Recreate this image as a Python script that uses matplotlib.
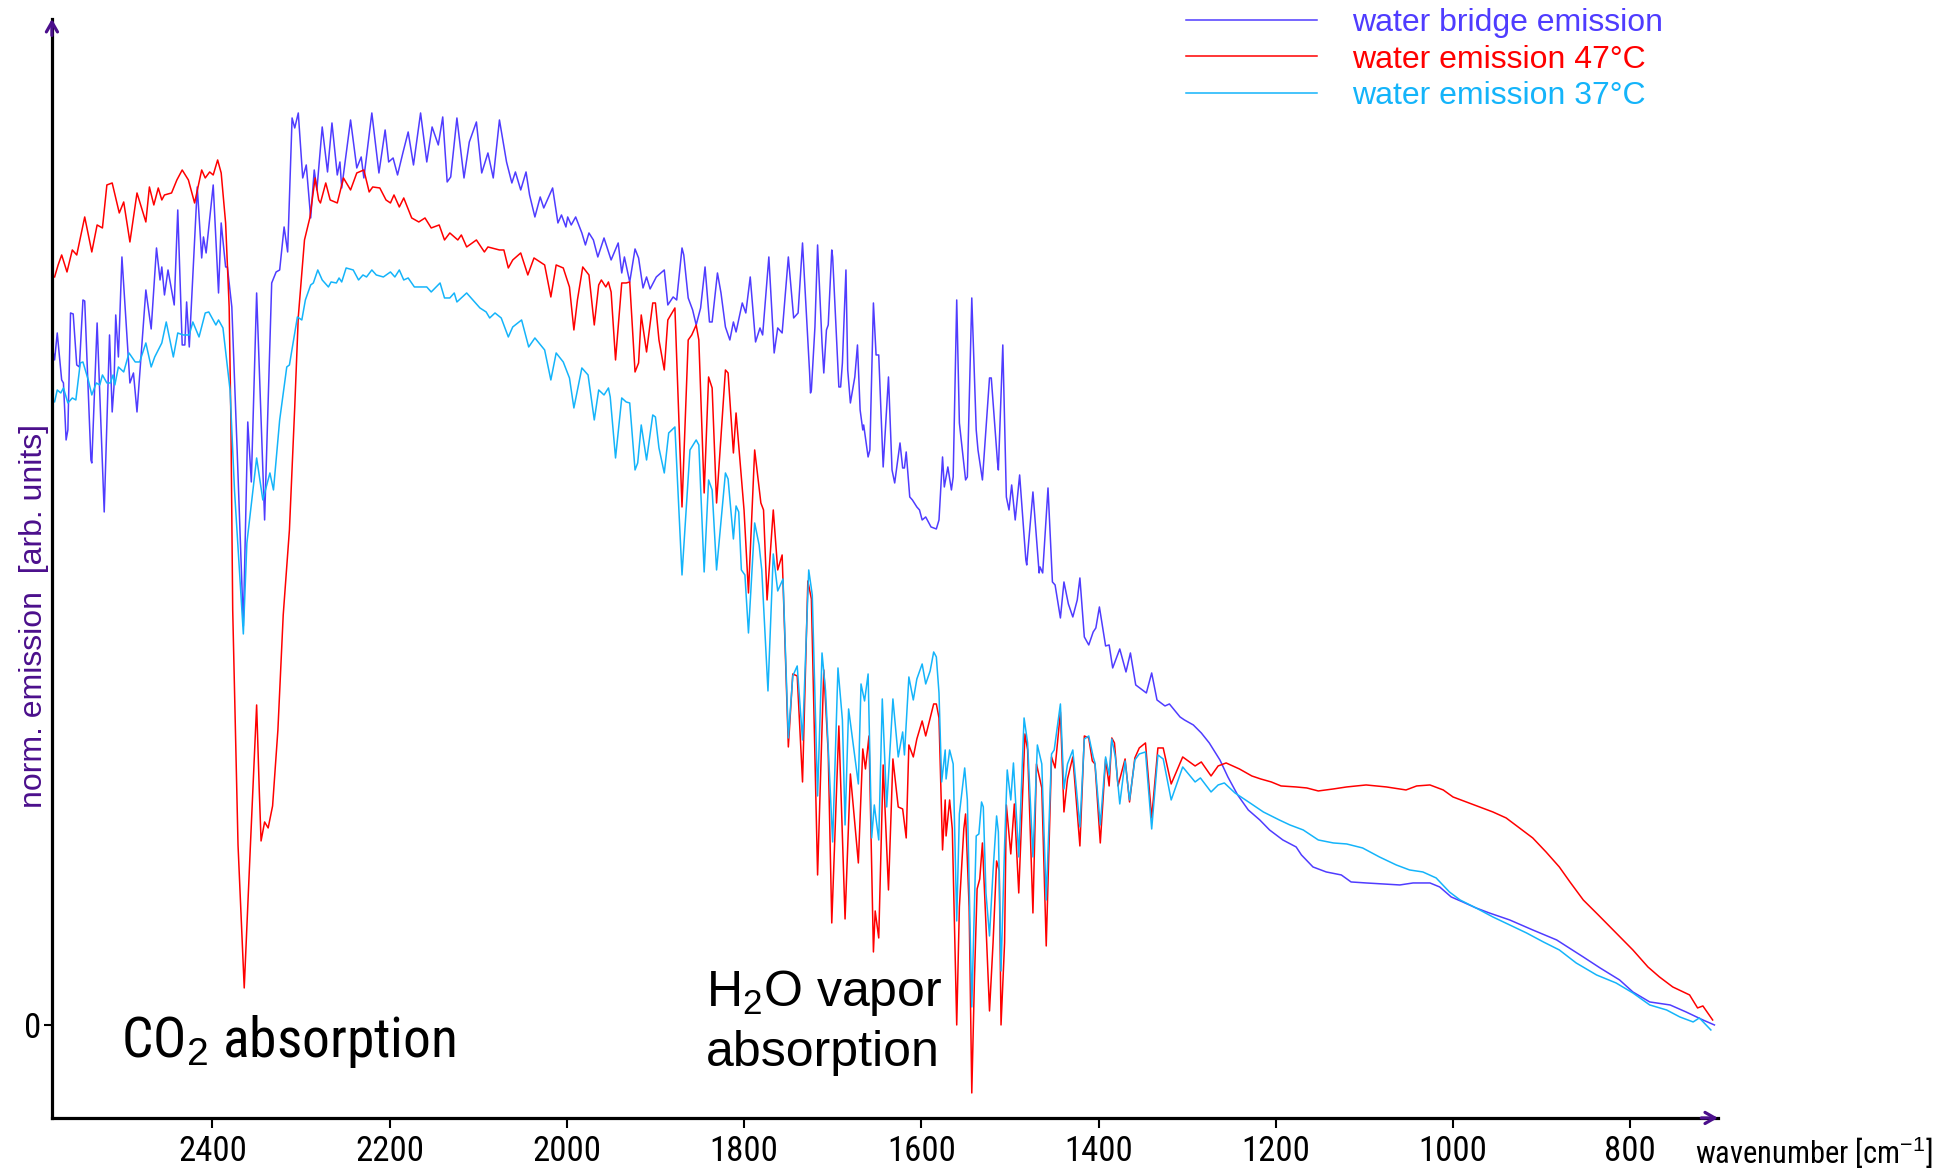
import matplotlib
matplotlib.use("Agg")
import matplotlib.pyplot as plt
from matplotlib import font_manager as fm

# wavenumber [cm-1] and normalised emission
BRIDGE_WN = [2580, 2578, 2575, 2570, 2568, 2565, 2563, 2560, 2557, 2553,
             2550, 2546, 2544, 2537, 2536, 2530, 2522, 2516, 2513, 2511,
             2509, 2506, 2502, 2493, 2489, 2485, 2475, 2469, 2463, 2459,
             2457, 2454, 2450, 2443, 2439, 2434, 2431, 2429, 2426, 2417,
             2412, 2410, 2407, 2399, 2393, 2390, 2385, 2383, 2378, 2372,
             2365, 2360, 2356, 2350, 2341, 2333, 2328, 2324, 2319, 2315,
             2310, 2307, 2303, 2298, 2294, 2289, 2285, 2282, 2276, 2270,
             2265, 2259, 2256, 2254, 2244, 2237, 2232, 2229, 2220, 2212,
             2205, 2201, 2196, 2191, 2185, 2179, 2173, 2165, 2158, 2152,
             2145, 2140, 2135, 2131, 2124, 2116, 2110, 2102, 2096, 2089,
             2083, 2076, 2068, 2062, 2058, 2052, 2046, 2042, 2036, 2030,
             2026, 2016, 2010, 2006, 2001, 1999, 1995, 1990, 1983, 1979,
             1975, 1970, 1965, 1958, 1950, 1942, 1938, 1935, 1929, 1923,
             1919, 1914, 1910, 1906, 1899, 1890, 1886, 1880, 1876, 1870,
             1868, 1863, 1858, 1854, 1849, 1844, 1839, 1836, 1830, 1826,
             1821, 1816, 1812, 1809, 1802, 1798, 1793, 1787, 1782, 1779,
             1772, 1766, 1762, 1757, 1750, 1744, 1739, 1734, 1726, 1725,
             1724, 1720, 1717, 1712, 1710, 1707, 1705, 1701, 1700, 1693,
             1691, 1689, 1685, 1683, 1680, 1675, 1672, 1669, 1666, 1665,
             1660, 1658, 1654, 1651, 1648, 1643, 1637, 1633, 1630, 1624,
             1621, 1619, 1617, 1613, 1610, 1605, 1602, 1599, 1595, 1589,
             1583, 1580, 1576, 1574, 1570, 1566, 1564, 1560, 1557, 1550,
             1548, 1543, 1538, 1536, 1531, 1523, 1521, 1514, 1513, 1508,
             1504, 1501, 1498, 1494, 1489, 1482, 1481, 1474, 1467, 1466,
             1463, 1457, 1452, 1449, 1443, 1439, 1434, 1429, 1424, 1421,
             1416, 1411, 1406, 1403, 1399, 1392, 1388, 1384, 1376, 1369,
             1364, 1358, 1352, 1346, 1340, 1334, 1325, 1320, 1308, 1303,
             1293, 1284, 1275, 1263, 1254, 1243, 1231, 1218, 1207, 1192,
             1177, 1171, 1158, 1143, 1126, 1115, 1098, 1079, 1060, 1045,
             1026, 1015, 1002, 989, 974, 959, 936, 910, 883, 853,
             834, 812, 797, 778, 755, 737, 718, 705]
BRIDGE_VAL = [67.5, 66.5, 69.2, 64.5, 64.2, 58.5, 59.5, 71.2, 71.1, 66.0,
              65.8, 72.5, 72.4, 56.5, 56.2, 70.2, 51.3, 69.0, 61.3, 63.8,
              71.0, 66.8, 76.8, 64.2, 65.2, 61.3, 73.5, 69.6, 77.7, 74.5,
              75.8, 73.0, 75.5, 72.0, 81.5, 68.0, 68.0, 72.3, 67.8, 83.8,
              76.7, 78.8, 77.2, 84.0, 73.2, 80.2, 75.8, 75.8, 71.8, 57.5,
              39.9, 60.3, 54.3, 73.2, 50.5, 74.2, 75.3, 75.5, 79.8, 77.3,
              90.7, 89.7, 91.2, 84.7, 86.0, 80.7, 85.5, 83.5, 89.8, 85.3,
              90.2, 85.0, 86.3, 83.7, 90.5, 85.7, 86.8, 84.7, 91.2, 85.2,
              89.5, 86.3, 86.7, 85.0, 87.2, 89.3, 86.0, 91.2, 86.3, 89.8,
              88.0, 90.8, 84.3, 84.8, 90.7, 84.7, 88.3, 90.3, 85.2, 87.2,
              84.7, 90.5, 86.3, 84.2, 85.3, 83.5, 85.3, 83.0, 80.8, 82.8,
              81.7, 83.7, 80.2, 81.0, 79.8, 80.8, 80.0, 80.8, 79.2, 78.0,
              79.2, 78.5, 76.8, 78.7, 76.5, 78.2, 75.2, 76.8, 74.3, 77.6,
              76.7, 73.7, 74.8, 73.6, 74.8, 75.5, 72.0, 72.8, 72.5, 77.7,
              77.0, 72.7, 71.5, 70.0, 71.7, 75.8, 70.3, 70.3, 75.2, 73.2,
              69.8, 68.5, 70.3, 69.3, 72.2, 71.2, 74.8, 68.3, 69.7, 69.0,
              76.8, 67.2, 69.7, 69.2, 76.8, 70.7, 71.2, 78.2, 65.2, 63.2,
              63.5, 69.8, 78.0, 68.2, 65.2, 69.5, 70.0, 77.5, 76.8, 63.8,
              63.8, 66.2, 75.5, 65.5, 62.2, 64.8, 68.0, 61.5, 59.5, 60.0,
              56.8, 57.5, 72.2, 67.0, 67.0, 55.8, 64.8, 55.5, 54.2, 58.2,
              55.7, 55.7, 57.3, 52.8, 52.5, 51.8, 51.5, 50.5, 50.8, 49.8,
              49.6, 50.5, 56.8, 53.8, 55.8, 53.5, 54.8, 72.5, 60.2, 54.5,
              54.8, 72.7, 59.5, 57.5, 54.5, 64.7, 64.7, 56.3, 55.5, 68.0,
              52.8, 51.5, 54.0, 50.5, 55.0, 46.5, 46.0, 53.3, 45.2, 45.8,
              45.2, 53.7, 44.3, 44.0, 40.7, 44.3, 42.1, 40.8, 42.5, 44.7,
              38.8, 38.0, 39.3, 39.7, 41.8, 37.9, 38.0, 35.7, 37.6, 35.3,
              37.2, 34.0, 33.6, 33.2, 35.2, 32.5, 31.9, 32.1, 30.8, 30.5,
              30.0, 29.2, 28.2, 26.5, 24.8, 23.0, 21.5, 20.5, 19.5, 18.5,
              17.8, 17.0, 15.8, 15.3, 15.0, 14.3, 14.2, 14.1, 14.0, 14.2,
              14.2, 13.8, 12.8, 12.3, 11.7, 11.2, 10.5, 9.5, 8.5, 6.8,
              5.7, 4.5, 3.3, 2.3, 2.0, 1.3, 0.5, 0.0]

WATER47_WN = [2578, 2574, 2570, 2564, 2558, 2553, 2544, 2536, 2530, 2524,
              2519, 2513, 2505, 2500, 2493, 2485, 2475, 2471, 2466, 2461,
              2457, 2454, 2446, 2440, 2434, 2427, 2420, 2412, 2408, 2403,
              2399, 2394, 2390, 2385, 2381, 2379, 2377, 2371, 2364, 2357,
              2350, 2347, 2345, 2341, 2337, 2332, 2326, 2320, 2313, 2307,
              2303, 2296, 2290, 2284, 2280, 2278, 2272, 2267, 2259, 2252,
              2244, 2237, 2229, 2223, 2219, 2211, 2204, 2199, 2195, 2189,
              2184, 2175, 2167, 2160, 2153, 2144, 2138, 2132, 2123, 2119,
              2113, 2102, 2093, 2089, 2076, 2071, 2066, 2061, 2052, 2044,
              2037, 2025, 2018, 2012, 2004, 1997, 1992, 1988, 1982, 1975,
              1969, 1964, 1961, 1956, 1953, 1950, 1945, 1938, 1933, 1929,
              1923, 1919, 1916, 1910, 1903, 1900, 1896, 1890, 1886, 1878,
              1870, 1863, 1859, 1854, 1851, 1845, 1840, 1836, 1831, 1821,
              1818, 1812, 1809, 1800, 1795, 1788, 1781, 1778, 1774, 1767,
              1762, 1757, 1750, 1745, 1740, 1734, 1728, 1724, 1717, 1710,
              1705, 1701, 1693, 1686, 1680, 1671, 1666, 1663, 1659, 1654,
              1652, 1648, 1643, 1637, 1632, 1626, 1621, 1617, 1614, 1609,
              1605, 1599, 1595, 1590, 1586, 1583, 1580, 1576, 1573, 1572,
              1568, 1565, 1560, 1557, 1552, 1550, 1546, 1543, 1540, 1537,
              1534, 1531, 1527, 1523, 1519, 1515, 1512, 1510, 1506, 1504,
              1499, 1495, 1490, 1483, 1480, 1474, 1470, 1464, 1459, 1453,
              1449, 1443, 1439, 1435, 1429, 1421, 1416, 1411, 1407, 1404,
              1398, 1392, 1388, 1385, 1382, 1378, 1370, 1365, 1359, 1354,
              1347, 1340, 1333, 1327, 1318, 1305, 1291, 1284, 1273, 1265,
              1256, 1241, 1227, 1217, 1205, 1194, 1177, 1165, 1152, 1135,
              1120, 1098, 1075, 1060, 1053, 1041, 1026, 1011, 1000, 985,
              970, 955, 940, 925, 910, 895, 880, 868, 853, 836,
              816, 797, 780, 767, 752, 733, 724, 718, 707]
WATER47_VAL = [74.8, 76.0, 77.0, 75.3, 77.5, 77.0, 80.8, 77.3, 80.0, 79.7,
               84.0, 84.2, 81.2, 82.3, 78.3, 83.2, 80.3, 83.8, 82.0, 83.7,
               82.5, 83.0, 83.2, 84.5, 85.5, 84.5, 82.2, 85.5, 84.7, 85.3,
               85.0, 86.5, 85.2, 80.2, 71.8, 60.2, 41.5, 18.0, 3.7, 18.0,
               32.0, 23.4, 18.4, 20.3, 19.7, 21.9, 29.5, 41.0, 49.5, 61.8,
               70.8, 78.5, 80.7, 84.7, 82.5, 82.2, 84.2, 82.5, 82.2, 84.7,
               83.5, 85.2, 85.5, 83.3, 83.8, 83.7, 82.5, 82.2, 83.0, 81.8,
               82.7, 80.7, 80.3, 80.7, 79.7, 80.0, 78.5, 79.2, 78.5, 79.0,
               77.8, 78.5, 77.3, 77.8, 77.5, 77.5, 75.7, 76.5, 77.2, 75.0,
               76.7, 76.0, 72.8, 76.0, 75.7, 73.8, 69.5, 72.5, 75.8, 75.0,
               70.0, 74.0, 74.5, 73.8, 74.3, 73.3, 66.5, 74.2, 74.2, 74.3,
               65.3, 66.2, 71.0, 67.3, 72.2, 72.2, 68.5, 65.5, 70.5, 71.7,
               51.8, 68.5, 69.0, 70.0, 68.5, 53.2, 64.8, 63.7, 52.2, 65.5,
               65.2, 57.2, 61.2, 51.5, 43.2, 57.5, 52.2, 51.5, 42.5, 51.5,
               45.5, 47.0, 27.8, 35.1, 34.9, 24.3, 44.4, 42.6, 15.0, 35.5,
               27.2, 10.2, 29.9, 10.6, 25.1, 16.2, 27.6, 25.6, 28.9, 7.3,
               11.4, 8.7, 26.0, 13.5, 26.6, 21.8, 21.6, 18.7, 28.0, 26.8,
               28.6, 30.4, 28.9, 30.7, 32.1, 32.1, 30.7, 17.5, 22.5, 18.9,
               22.5, 19.6, 0.0, 11.8, 19.6, 21.1, 11.8, -6.8, 4.6, 13.6,
               14.6, 18.2, 10.0, 1.4, 8.2, 16.4, 15.4, 0.0, 8.2, 22.0,
               17.1, 22.1, 13.2, 29.1, 27.5, 11.2, 26.1, 23.7, 7.9, 26.8,
               25.7, 31.3, 21.3, 24.6, 26.8, 17.9, 28.9, 28.7, 26.4, 26.1,
               18.2, 26.6, 23.9, 28.7, 28.2, 23.9, 26.6, 22.3, 26.7, 27.7,
               28.2, 20.7, 27.7, 27.7, 24.1, 26.8, 25.9, 26.3, 24.9, 25.9,
               26.2, 25.6, 24.9, 24.6, 24.3, 23.9, 23.8, 23.7, 23.4, 23.6,
               23.8, 24.0, 23.8, 23.6, 23.5, 23.9, 24.0, 23.5, 22.8, 22.3,
               21.8, 21.3, 20.7, 19.7, 18.7, 17.3, 15.8, 14.3, 12.5, 11.0,
               9.2, 7.5, 5.8, 4.8, 3.8, 3.0, 1.7, 1.9, 0.5]

WATER37_WN = [2580, 2578, 2575, 2571, 2568, 2563, 2558, 2554, 2549, 2546,
              2540, 2536, 2531, 2527, 2524, 2519, 2515, 2512, 2510, 2506,
              2500, 2494, 2487, 2482, 2475, 2469, 2465, 2457, 2452, 2444,
              2439, 2433, 2426, 2422, 2415, 2408, 2404, 2396, 2393, 2388,
              2380, 2375, 2365, 2361, 2350, 2343, 2335, 2331, 2324, 2316,
              2313, 2304, 2299, 2295, 2289, 2286, 2281, 2276, 2269, 2266,
              2260, 2257, 2254, 2249, 2241, 2235, 2230, 2226, 2220, 2215,
              2207, 2199, 2194, 2189, 2184, 2179, 2172, 2158, 2153, 2143,
              2138, 2132, 2127, 2124, 2113, 2098, 2091, 2087, 2081, 2074,
              2066, 2061, 2051, 2043, 2036, 2025, 2018, 2012, 2004, 1997,
              1992, 1983, 1976, 1969, 1964, 1958, 1953, 1951, 1945, 1938,
              1933, 1929, 1923, 1920, 1916, 1910, 1903, 1900, 1896, 1890,
              1885, 1878, 1870, 1861, 1854, 1851, 1845, 1840, 1836, 1831,
              1821, 1818, 1812, 1809, 1806, 1803, 1799, 1795, 1788, 1783,
              1780, 1773, 1767, 1762, 1756, 1750, 1745, 1740, 1734, 1727,
              1723, 1717, 1712, 1708, 1700, 1694, 1689, 1686, 1682, 1671,
              1668, 1664, 1660, 1656, 1653, 1648, 1644, 1639, 1632, 1626,
              1621, 1619, 1614, 1609, 1605, 1599, 1595, 1590, 1586, 1583,
              1580, 1577, 1573, 1572, 1568, 1564, 1560, 1557, 1551, 1548,
              1543, 1538, 1535, 1532, 1530, 1527, 1523, 1519, 1515, 1513,
              1510, 1506, 1503, 1499, 1496, 1490, 1484, 1480, 1474, 1469,
              1464, 1459, 1453, 1450, 1443, 1439, 1435, 1429, 1421, 1416,
              1411, 1406, 1404, 1398, 1392, 1388, 1385, 1381, 1376, 1370,
              1365, 1359, 1354, 1347, 1340, 1333, 1327, 1318, 1305, 1291,
              1285, 1273, 1265, 1258, 1246, 1229, 1214, 1196, 1184, 1169,
              1152, 1135, 1120, 1102, 1083, 1064, 1049, 1034, 1019, 1004,
              992, 974, 955, 936, 917, 898, 880, 861, 838, 816,
              797, 778, 759, 744, 729, 722, 709]
WATER37_VAL = [62.5, 62.3, 63.5, 63.2, 63.7, 62.2, 62.7, 62.5, 66.2, 66.3,
               64.5, 63.0, 64.2, 64.0, 65.0, 64.2, 64.2, 65.0, 64.0, 65.8,
               65.3, 67.2, 66.3, 66.3, 68.2, 65.8, 66.8, 68.2, 70.3, 66.8,
               69.2, 69.0, 69.0, 70.3, 68.8, 71.2, 71.3, 70.0, 70.5, 69.7,
               63.5, 53.5, 39.1, 48.2, 56.7, 52.5, 55.2, 53.5, 60.5, 65.8,
               66.0, 70.8, 70.5, 72.5, 74.0, 74.2, 75.5, 74.5, 73.8, 74.3,
               74.2, 74.7, 74.3, 75.7, 75.5, 74.5, 75.0, 74.8, 75.5, 75.0,
               74.8, 75.3, 74.8, 75.5, 74.5, 74.7, 73.8, 73.8, 73.3, 74.2,
               72.7, 72.7, 73.2, 72.3, 73.2, 71.7, 71.3, 70.7, 71.2, 70.7,
               68.8, 69.8, 70.5, 67.8, 68.7, 67.5, 64.5, 67.2, 66.3, 64.7,
               61.7, 65.7, 65.0, 60.5, 63.5, 63.0, 63.7, 62.8, 56.7, 62.7,
               62.3, 62.2, 55.5, 56.2, 60.0, 56.5, 61.0, 60.8, 57.7, 55.2,
               59.2, 59.8, 45.0, 57.5, 58.5, 58.0, 45.3, 54.5, 53.5, 45.5,
               55.2, 54.6, 48.6, 51.9, 51.3, 45.5, 45.0, 39.2, 50.2, 48.0,
               45.5, 33.4, 47.1, 43.4, 44.6, 28.7, 34.9, 35.9, 28.5, 45.5,
               43.0, 22.9, 37.2, 33.4, 18.3, 35.7, 30.5, 20.0, 31.6, 24.1,
               34.1, 32.4, 35.1, 18.7, 22.0, 18.5, 32.6, 21.8, 32.6, 26.8,
               29.3, 27.0, 34.8, 32.5, 34.6, 36.1, 34.1, 35.4, 37.3, 36.8,
               33.2, 24.3, 27.5, 24.6, 27.5, 26.1, 10.4, 21.1, 25.7, 22.5,
               1.8, 18.9, 19.1, 22.3, 21.8, 13.2, 8.9, 15.4, 20.9, 19.3,
               5.4, 17.9, 25.5, 22.5, 26.2, 16.8, 30.7, 28.2, 16.8, 28.0,
               26.1, 12.5, 27.1, 27.5, 32.1, 23.6, 26.1, 27.5, 19.8, 28.6,
               28.9, 26.8, 26.2, 20.0, 26.8, 25.0, 28.6, 26.8, 22.1, 26.4,
               22.5, 26.5, 27.1, 27.3, 19.6, 27.0, 26.6, 22.5, 25.8, 24.3,
               24.7, 23.3, 24.0, 24.2, 23.2, 22.2, 21.3, 20.5, 20.0, 19.5,
               18.5, 18.2, 18.1, 17.7, 16.8, 16.0, 15.5, 15.3, 14.7, 13.3,
               12.5, 11.7, 10.8, 10.0, 9.2, 8.3, 7.5, 6.2, 5.0, 4.2,
               3.2, 2.0, 1.5, 0.8, 0.3, 0.7, -0.5]

SERIES_LABELS = ["water bridge emission", "water emission 47°C", "water emission 37°C"]
SERIES_COLORS = ["#4f3cff", "#ff0000", "#14b4fa"]
XTICKS = [2400, 2200, 2000, 1800, 1600, 1400, 1200, 1000, 800]

PURPLE = "#4b0f8c"
SANS = ["Liberation Sans", "DejaVu Sans"]

plt.rcParams["mathtext.fontset"] = "custom"
plt.rcParams["mathtext.rm"] = "Liberation Sans"
plt.rcParams["mathtext.it"] = "Liberation Sans:italic"
plt.rcParams["mathtext.bf"] = "Liberation Sans:bold"


def narrow_font():
    # condensed face if one is installed, else plain Liberation Sans
    names = {f.name for f in fm.fontManager.ttflist}
    for cand in ("Liberation Sans Narrow", "Arial Narrow", "Roboto Condensed",
                 "DejaVu Sans Condensed", "Open Sans Condensed"):
        if cand in names:
            return dict(family=[cand, "DejaVu Sans"]), True
    for f in fm.fontManager.ttflist:
        if f.name == "DejaVu Sans" and f.stretch == "condensed":
            return dict(family=["DejaVu Sans"], stretch="condensed"), True
    return dict(family=SANS), False


def main():
    nfont, is_narrow = narrow_font()
    tick_fs = 25 if is_narrow else 23
    wav_fs = 22 if is_narrow else 20
    co2_fs = 40 if is_narrow else 35

    fig = plt.figure(figsize=(19.52, 11.71), dpi=100)
    ax = fig.add_axes([0.0266, 0.0453, 0.8535, 0.9385])

    series = [(BRIDGE_WN, BRIDGE_VAL), (WATER47_WN, WATER47_VAL),
              (WATER37_WN, WATER37_VAL)]
    for (wn, val), lab, col in zip(series, SERIES_LABELS, SERIES_COLORS):
        ax.plot(wn, val, color=col, lw=1.1, label=lab)

    ax.set_xlim(2581, 701)
    ax.set_ylim(-9.3, 100.6)

    for s in ("top", "right"):
        ax.spines[s].set_visible(False)
    for s in ("left", "bottom"):
        ax.spines[s].set_linewidth(2.3)

    ax.set_xticks(XTICKS)
    ax.set_xticklabels([str(t) for t in XTICKS], fontsize=tick_fs, **nfont)
    ax.set_yticks([0])
    ax.set_yticklabels(["0"], fontsize=tick_fs, **nfont)
    ax.tick_params(axis="x", direction="out", length=7, width=1.5, pad=5)
    ax.tick_params(axis="y", direction="out", length=6, width=1.5, pad=2)

    arrow = dict(arrowstyle="->,head_length=0.7,head_width=0.4", color=PURPLE,
                 lw=2.3, shrinkA=0, shrinkB=0)
    ax.annotate("", xy=(1.0, 0), xytext=(0.99, 0), xycoords="axes fraction",
                arrowprops=arrow, annotation_clip=False)
    ax.annotate("", xy=(0, 1.0), xytext=(0, 0.985), xycoords="axes fraction",
                arrowprops=arrow, annotation_clip=False)

    fig.text(0.0173, 0.474, "norm. emission  [arb. units]", rotation=90,
             color=PURPLE, fontsize=23, ha="center", va="center", family=SANS)
    fig.text(0.8685, 0.0155, "wavenumber [cm$^{-1}$]", fontsize=wav_fs,
             ha="left", va="center", **nfont)

    ax.text(2503, -3.2, "CO$_2$ absorption", fontsize=co2_fs,
            ha="left", va="baseline", **nfont)
    ax.text(1843, 1.9, "H$_2$O vapor", fontsize=36, family=SANS,
            ha="left", va="baseline")
    ax.text(1843, -4.1, "absorption", fontsize=36, family=SANS,
            ha="left", va="baseline")

    ax.legend(loc="upper left", bbox_to_anchor=(0.6076, 0.993),
              bbox_transform=fig.transFigure, frameon=False,
              prop={"family": SANS, "size": 23}, handlelength=4.1,
              handletextpad=1.1, labelspacing=0.2, borderpad=0,
              borderaxespad=0, labelcolor="linecolor")

    fig.savefig("out.png", dpi=100)
    plt.close(fig)


if __name__ == "__main__":
    main()
